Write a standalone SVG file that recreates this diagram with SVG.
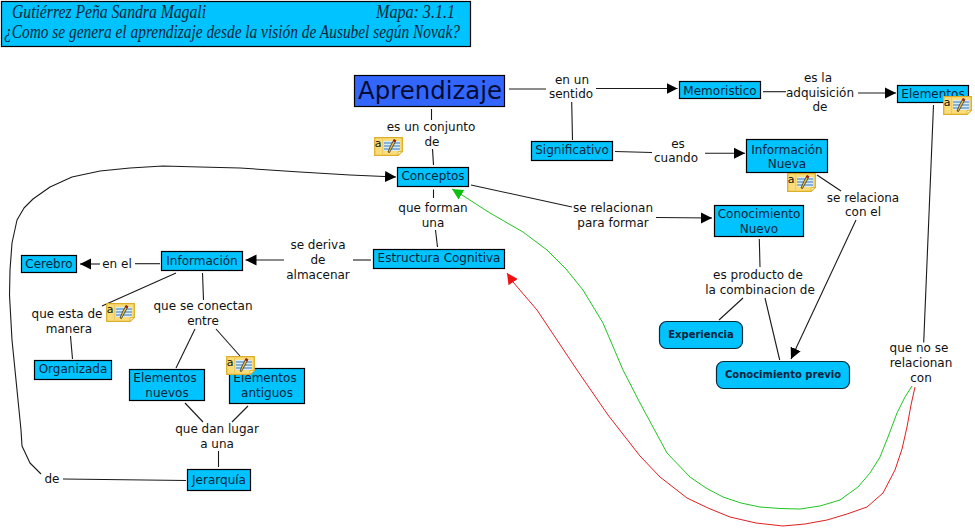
<svg xmlns="http://www.w3.org/2000/svg" xmlns:xlink="http://www.w3.org/1999/xlink" width="975" height="528" viewBox="0 0 975 528">
<style>
text{font-family:"DejaVu Sans","Liberation Sans",sans-serif;font-size:12px;text-anchor:middle;fill:#111}
.n rect{fill:#00c3ff;stroke:#000;stroke-width:1.2}
.n text{fill:#03263a}
.r rect{stroke:#0a2a3a}
.r text{font-weight:bold;font-size:10px;fill:#06223a}
.t text{font-family:"Liberation Serif",serif;font-style:italic;font-size:18px;text-anchor:start;fill:#03263a}
.c{fill:none;stroke:#1a1a1a;stroke-width:1.1}
.a{marker-end:url(#k)}
.g{fill:none;stroke:#22c422;stroke-width:1;marker-end:url(#kg)}
.e{fill:none;stroke:#e02020;stroke-width:1;marker-end:url(#kr)}
</style>
<defs>
<marker id="k" markerUnits="userSpaceOnUse" markerWidth="12" markerHeight="12" refX="11" refY="6" orient="auto"><path d="M0 0.5L11 6L0 11.5z" fill="#000"/></marker>
<marker id="kg" markerUnits="userSpaceOnUse" markerWidth="12" markerHeight="12" refX="11" refY="6" orient="auto"><path d="M0 0.5L11 6L0 11.5z" fill="#10c010"/></marker>
<marker id="kr" markerUnits="userSpaceOnUse" markerWidth="12" markerHeight="12" refX="11" refY="6" orient="auto"><path d="M0 0.5L11 6L0 11.5z" fill="#f01010"/></marker>
<symbol id="note" viewBox="0 0 29 19" width="29" height="19" overflow="visible">
<path d="M0.7 0.7H28.3V14.5L24 18.3H0.7z" fill="#fbdc7a" stroke="#dcae2a" stroke-width="1.3"/>
<path d="M24 18.3V14.5H28.3z" fill="#fff6cc" stroke="#dcae2a" stroke-width=".8"/>
<path d="M8.5 1V18" stroke="#eec860" stroke-width="1"/>
<rect x="10" y="4" width="16" height="10" fill="#d8ecf8"/>
<path d="M10 6H26M10 9H26M10 12H26" stroke="#3a78b8" stroke-width="1"/>
<path d="M14 15L16.5 9L20 2.5L22 3.5L18.5 10L15.5 15.5z" fill="#e8c040" stroke="#222" stroke-width=".7"/>
<path d="M19.6 2.6L22 3.5L21.2 5.2L18.8 4.2z" fill="#b01818"/>
<text x="4.2" y="9.5" style="font-size:11px;fill:#111">a</text>
</symbol>
</defs>

<g id="connectors">
<path class="c" d="M509 89H546"/>
<path class="c a" d="M596 88.5H677.5"/>
<path class="c" d="M571.7 102L572.5 140"/>
<path class="c" d="M763 91.7H786"/>
<path class="c a" d="M858 93H896"/>
<path class="c" d="M615 151.5L652 152.5"/>
<path class="c a" d="M705 153.2H745"/>
<path class="c" d="M431.5 109V120"/>
<path class="c" d="M432.5 149L433.5 165"/>
<path class="c" d="M471 185L572 207"/>
<path class="c a" d="M656 217.5L712 218"/>
<path class="c" d="M433.5 189.5V198"/>
<path class="c" d="M435.5 230L437.5 247"/>
<path class="c" d="M371 260H353"/>
<path class="c a" d="M284 260H245.5"/>
<path class="c" d="M160 263.7H135"/>
<path class="c a" d="M100 264H80"/>
<path class="c" d="M176 273L102 306"/>
<path class="c" d="M70.5 336L72.5 359"/>
<path class="c" d="M202.5 273L203.5 300"/>
<path class="c" d="M195 329L176 368"/>
<path class="c" d="M216 329L240 356"/>
<path class="c" d="M185 403L203 422"/>
<path class="c" d="M248 406L232 422"/>
<path class="c" d="M218.5 451V467"/>
<path class="c" d="M186 480.5L63 479"/>
<path class="c" d="M759.3 239L760 267"/>
<path class="c" d="M743 298L719 320"/>
<path class="c" d="M765 298L779.7 360"/>
<path class="c" d="M817 175L841 191"/>
<path class="c a" d="M856 220L791 359"/>
<path class="c" d="M933.5 105L923.7 342.5"/>
<polyline class="c a" stroke-linejoin="round" points="41,474 30,463 22,446 21,430 17,390 12,340 9.5,295 10,270 12,243 17,220 24,208 33,199 50,187 72,177 100,171 130,168 163,166 200,167 240,168 300,172 350,175 396,177"/>
<polyline class="g" stroke-linejoin="round" points="912,386 905,397 897,413 888,437 880,457 870,473 858,487 840,500 820,506 800,509 780,508.5 760,507 741,503 723,497 706,488 690,477 667,453 640,403 623,370 603,323 583,290 566,269 547,250 523,232 490,213 462,195 452,189"/>
<polyline class="e" stroke-linejoin="round" points="915,387 911,405 907,427 902,449 895,470 883,493 867,507 847,514 827,520 805,524 783,526 756,523 730,517 708,508 687,498 660,477 640,456 608,415 577,370 557,340 537,310 513,282 507,273"/>
</g>

<g id="title" class="n t">
<rect x="1.5" y="1.5" width="469" height="45"/>
<text x="12" y="18" textLength="194" lengthAdjust="spacingAndGlyphs">Gutiérrez Peña Sandra Magali</text>
<text x="376" y="18" textLength="79" lengthAdjust="spacingAndGlyphs">Mapa: 3.1.1</text>
<text x="4" y="38" textLength="456" lengthAdjust="spacingAndGlyphs">¿Como se genera el aprendizaje desde la visión de Ausubel según Novak?</text>
</g>
<g id="aprendizaje" class="n"><rect x="354.5" y="75.5" width="150" height="31" style="fill:#3366ff"/><text x="430" y="98.5" style="font-size:24.4px;fill:#040d30">Aprendizaje</text></g>
<g id="memoristico" class="n"><rect x="679.5" y="81.5" width="81" height="17"/><text x="720" y="94.5">Memoristico</text></g>
<g id="elementos" class="n"><rect x="897.5" y="85.5" width="71" height="17"/><text x="933" y="98">Elementos</text></g>
<g id="significativo" class="n"><rect x="531.5" y="141.5" width="81" height="19"/><text x="572" y="154">Significativo</text></g>
<g id="informacion-nueva" class="n"><rect x="746.5" y="139.5" width="81" height="33"/><text x="787" y="153.5">Información</text><text x="787" y="168">Nueva</text></g>
<g id="conceptos" class="n"><rect x="397.5" y="167.5" width="71" height="19"/><text x="433" y="180">Conceptos</text></g>
<g id="conocimiento-nuevo" class="n"><rect x="714.5" y="205.5" width="89" height="31"/><text x="759" y="218">Conocimiento</text><text x="759" y="233">Nuevo</text></g>
<g id="estructura" class="n"><rect x="373.5" y="249.5" width="131" height="19"/><text x="439" y="262">Estructura Cognitiva</text></g>
<g id="cerebro" class="n"><rect x="21.5" y="255.5" width="55" height="17"/><text x="49" y="268">Cerebro</text></g>
<g id="informacion" class="n"><rect x="161.5" y="251.5" width="81" height="19"/><text x="202" y="265">Información</text></g>
<g id="organizada" class="n"><rect x="34.5" y="360.5" width="77" height="19"/><text x="73" y="373">Organizada</text></g>
<g id="elementos-nuevos" class="n"><rect x="129.5" y="369.5" width="75" height="31"/><text x="165" y="382">Elementos</text><text x="167" y="397">nuevos</text></g>
<g id="elementos-antiguos" class="n"><rect x="229.5" y="368.5" width="75" height="35"/><text x="265" y="382">Elementos</text><text x="267" y="397">antiguos</text></g>
<g id="jerarquia" class="n"><rect x="187.5" y="469.5" width="63" height="21"/><text x="219" y="484">Jerarquía</text></g>
<g id="experiencia" class="n r"><rect x="659.5" y="321.5" width="83" height="27" rx="7"/><text x="701" y="338">Experiencia</text></g>
<g id="conocimiento-previo" class="n r"><rect x="716.5" y="361.5" width="133" height="27" rx="7"/><text x="783" y="378">Conocimiento previo</text></g>

<g id="labels">
<text x="572" y="84">en un</text><text x="571" y="98">sentido</text>
<text x="818" y="82">es la</text><text x="820" y="97">adquisición</text><text x="820" y="111">de</text>
<text x="678" y="148">es</text><text x="676" y="162">cuando</text>
<text x="863" y="202">se relaciona</text><text x="863" y="216">con el</text>
<text x="613" y="212">se relacionan</text><text x="613" y="227">para formar</text>
<text x="758" y="279">es producto de</text><text x="760" y="294">la combinacion de</text>
<text x="919" y="352">que no se</text><text x="921" y="367">relacionan</text><text x="921" y="382">con</text>
<text x="431" y="131">es un conjunto</text><text x="432" y="146">de</text>
<text x="433" y="212">que forman</text><text x="433" y="227">una</text>
<text x="318" y="249">se deriva</text><text x="318" y="264">de</text><text x="318" y="279">almacenar</text>
<text x="117" y="268">en el</text>
<text x="67" y="318">que esta de</text><text x="69" y="333">manera</text>
<text x="203" y="310">que se conectan</text><text x="203" y="325">entre</text>
<text x="217" y="433">que dan lugar</text><text x="217" y="448">a una</text>
<text x="52" y="483">de</text>
</g>

<g id="notes">
<use xlink:href="#note" href="#note" x="374" y="137"/>
<use xlink:href="#note" href="#note" x="943" y="96"/>
<use xlink:href="#note" href="#note" x="787" y="173"/>
<use xlink:href="#note" href="#note" x="106" y="303"/>
<use xlink:href="#note" href="#note" x="226" y="356"/>
</g>
</svg>
